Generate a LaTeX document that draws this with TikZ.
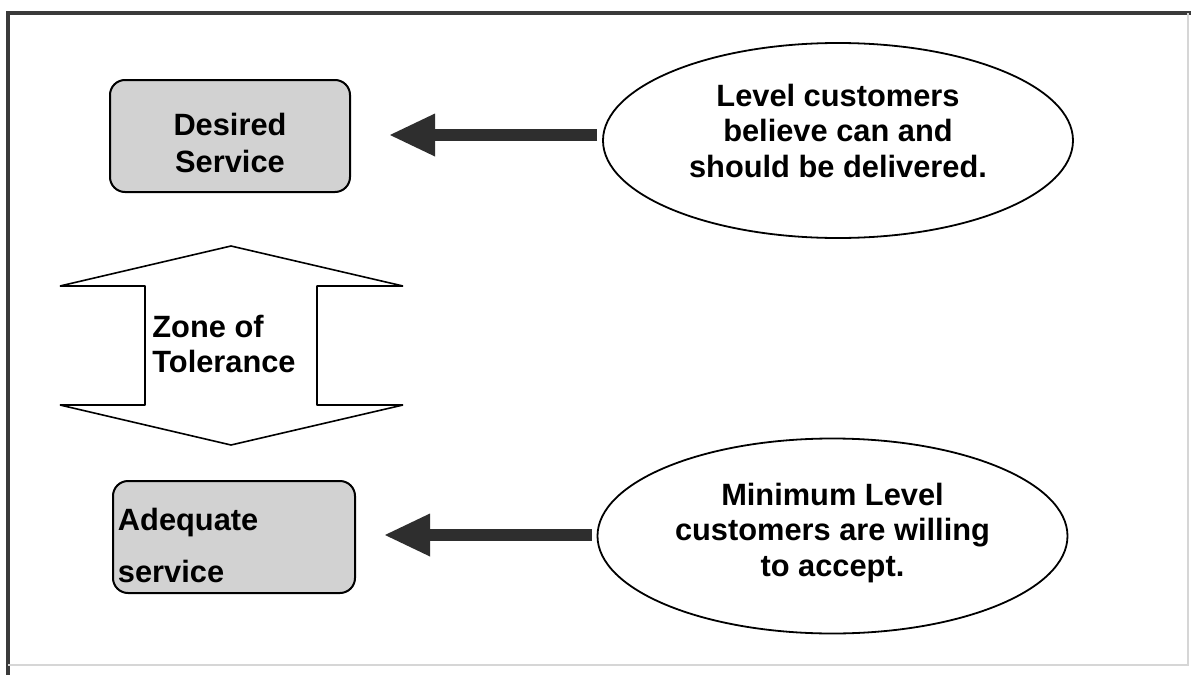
\documentclass[tikz,border=0pt]{standalone}
\usepackage{fontspec}
\setmainfont{Liberation Sans}
\usepackage{xcolor}
\usetikzlibrary{arrows.meta,shapes.geometric}
\definecolor{boxgrey}{HTML}{D2D2D2}
\definecolor{arrowdark}{HTML}{2E2E2E}
\definecolor{framegrey}{HTML}{3A3A3A}
\definecolor{faintline}{HTML}{D6D6D6}
\newcommand{\topgap}[1]{\rule{0pt}{#1}}

\begin{document}
\begin{tikzpicture}[x=0.5pt, y=-0.5pt,
    svcbox/.style={draw=black, line width=1pt, fill=boxgrey, rounded corners=7.5pt, minimum width=120pt, minimum height=56pt, inner sep=2.5pt, font=\bfseries\fontsize{15.4}{18.5}\selectfont},
    note/.style={ellipse, draw=black, line width=0.9pt, fill=white, minimum width=235pt, minimum height=97.5pt, inner sep=0pt, align=center, font=\bfseries\fontsize{15.4}{17.75}\selectfont},
    pointer/.style={arrowdark, line width=5.75pt, -{Triangle[length=22.5pt, width=21.5pt, line width=0pt]}}
]
\fill[white] (0,0) rectangle (1191,675);
\useasboundingbox (0,0) rectangle (1191,675);
% frame
\draw[framegrey, line width=2pt] (8,675) -- (8,13) -- (1191,13);
\draw[faintline, line width=1pt] (1188,13) -- (1188,665) -- (8,665);

% service levels
\node[svcbox, align=center] (desired) at (230,136) {\topgap{18.5pt}Desired\\Service};
\node[svcbox, align=left, text width=116pt, font=\bfseries\fontsize{15.4}{26}\selectfont] (adequate) at (234,537) {\topgap{19.5pt}Adequate\\service};

% zone of tolerance
\draw[line width=0.8pt, line join=bevel, fill=white] (231,246) -- (403,286) -- (317,286) -- (317,405) -- (403,405)
    -- (231,445) -- (60,405) -- (145,405) -- (145,286) -- (60,286) -- cycle;
\node[anchor=north west, inner sep=0pt, align=left, font=\bfseries\fontsize{15.4}{17.5}\selectfont] (zone) at (152,315) {Zone of\\Tolerance};

% explanations
\node[note, text depth=10pt] (ell1) at (838,140.5) {Level customers\\believe can and\\should be delivered.};
\node[note, text depth=6.5pt] (ell2) at (832.5,536) {Minimum Level\\customers are willing\\to accept.};

\coordinate (tipD) at (390,135);
\coordinate (tipA) at (385,535);
\draw[pointer, shorten <=2.5pt] (tipD -| ell1.west) -- (tipD);
\draw[pointer, shorten <=2.5pt] (tipA -| ell2.west) -- (tipA);
\end{tikzpicture}
\end{document}
